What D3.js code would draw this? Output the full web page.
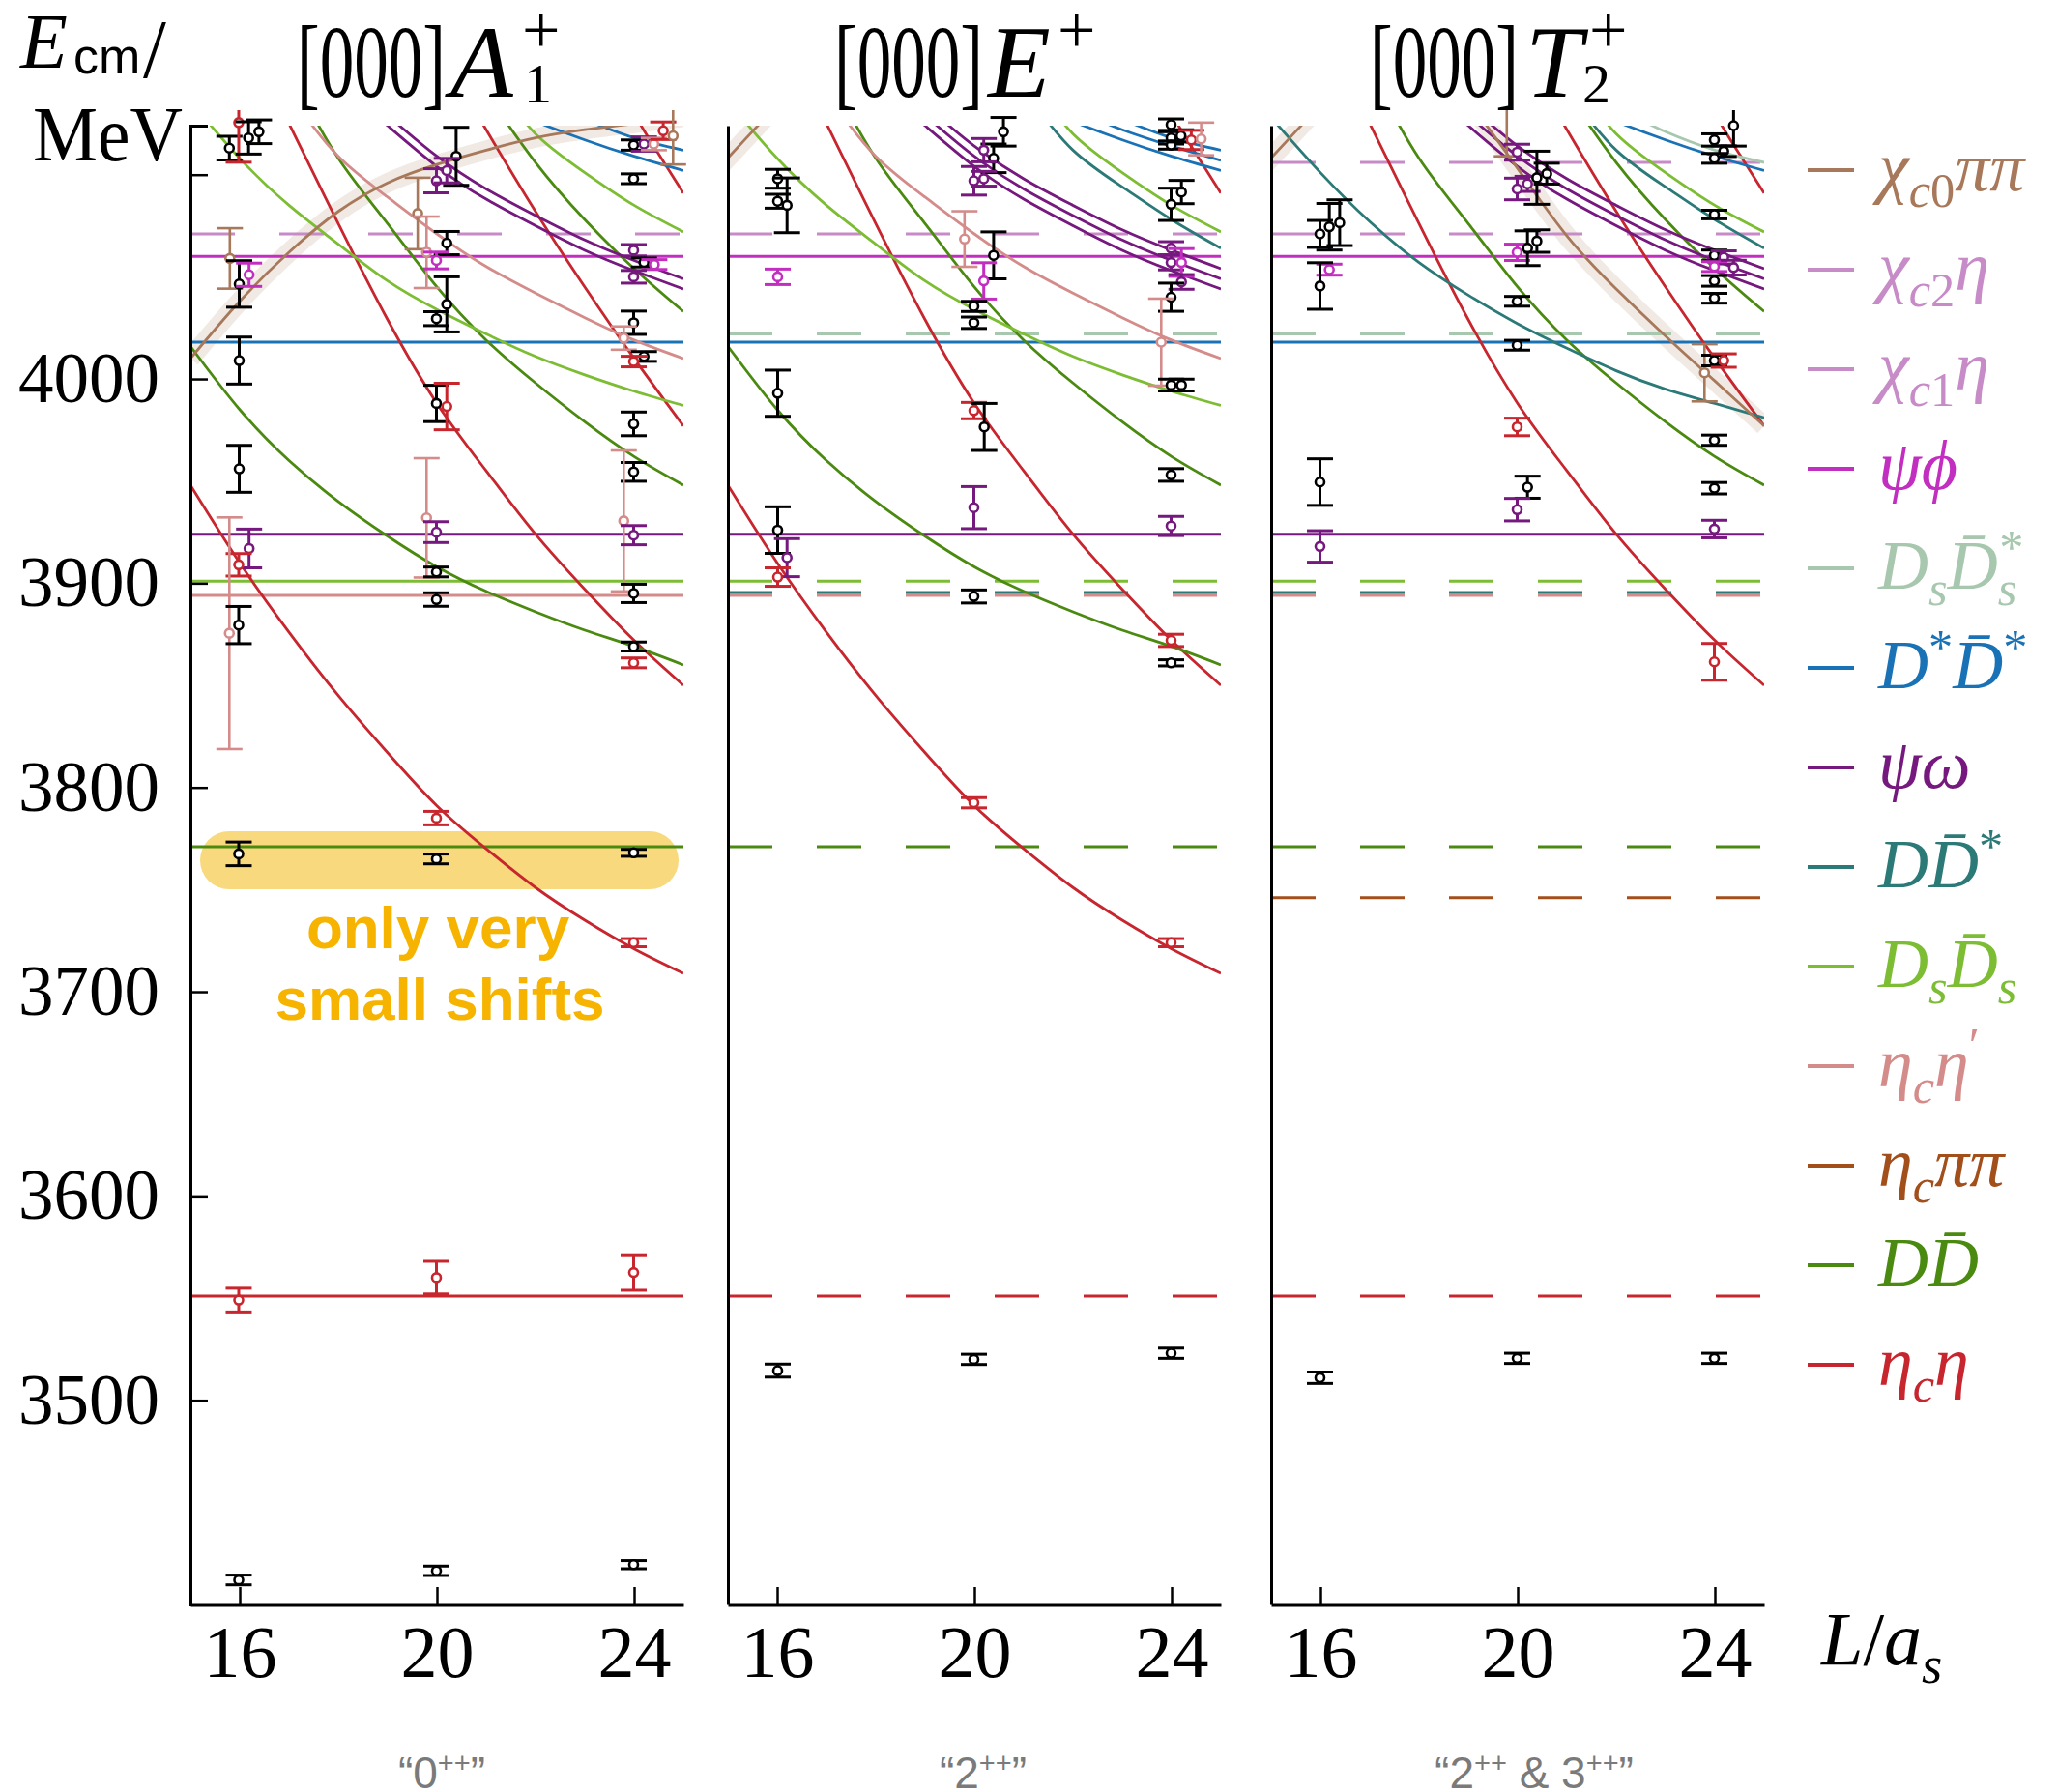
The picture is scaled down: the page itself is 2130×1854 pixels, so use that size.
<!DOCTYPE html>
<html>
<head>
<meta charset="utf-8">
<script src="https://cdn.jsdelivr.net/npm/d3@7"></script>
<style>
body { margin: 0; background: #fff; }
svg { display: block; }
</style>
</head>
<body>
<svg width="2130" height="1854"></svg>
<script>
// ---- threshold energies (MeV) ----
const thresholdKeys   = ['etacEta', 'etacPiPi', 'DD', 'etacEtap', 'DDst', 'DsDs', 'psiOmega', 'DstDst', 'DsDsst', 'psiPhi', 'chic1Eta', 'chic2Eta'];
const thresholdValues = [3551, 3746, 3771, 3894, 3895.5, 3901, 3924, 4018, 4022, 4060, 4071, 4106];

// which thresholds are drawn solid / dashed in each irrep
const solidA1  = ['etacEta', 'DD', 'etacEtap', 'DsDs', 'psiOmega', 'DstDst', 'psiPhi'];
const dashedA1 = ['chic1Eta'];
const solidE   = ['psiOmega', 'DstDst', 'psiPhi'];
const dashedE  = ['etacEta', 'DD', 'etacEtap', 'DDst', 'DsDs', 'DsDsst', 'chic1Eta'];
const solidT2  = ['psiOmega', 'DstDst', 'psiPhi'];
const dashedT2 = ['etacEta', 'etacPiPi', 'DD', 'etacEtap', 'DDst', 'DsDs', 'DsDsst', 'chic1Eta', 'chic2Eta'];

// ---- non-interacting curves, [L/a_s, E] ----
const etacEta1 = [[15,3948],[16,3910],[17,3876],[18,3845],[19,3817],[20,3791],[21,3770],[22,3751],[23,3735],[24,3721],[25,3709]];
const etacEta2 = [[16.5,4150],[17,4125],[18,4076],[19,4029],[20,3988],[21,3955],[22,3924],[23,3897],[24,3872],[25,3850]];
const etacEta3 = [[20.4,4147],[21,4122],[22,4082],[23,4045],[24,4010],[25,3977]];
const etacEta4 = [[23.6,4150],[24,4130],[24.5,4110],[25,4091]];
const dd1 = [[15,4016],[16,3985],[17,3960],[18,3940],[19,3923],[20,3908],[21,3896],[22,3886],[23,3877],[24,3869],[25,3860]];
const dd2 = [[17.2,4142],[18,4108],[19,4076],[20,4045],[21,4019],[22,3998],[23,3979],[24,3962],[25,3948]];
const dd3 = [[21,4140],[22,4106],[23,4078],[24,4054],[25,4033]];
const dsds1 = [[15,4136],[16,4108],[17,4085],[18,4066],[19,4048],[20,4034],[21,4022],[22,4011],[23,4002],[24,3994],[25,3987]];
const dsds2 = [[21.4,4140],[22,4120],[23,4101],[24,4085],[25,4072]];
const etacEtap1 = [[17.2,4133],[18,4109],[19,4089],[20,4071],[21,4055],[22,4042],[23,4030],[24,4019],[25,4010]];
const psiOmegaA = [[18.8,4128],[19,4124],[20,4104],[21,4088],[22,4075],[23,4063],[24,4053],[25,4044]];
const psiOmegaB = [[19,4129],[20,4109],[21,4093],[22,4080],[23,4068],[24,4058],[25,4049]];
const psiOmegaC = [[19.2,4130],[20,4114],[21,4098],[22,4085],[23,4073],[24,4063],[25,4054]];
const dstdstA = [[21.8,4128],[22,4126],[23,4117],[24,4109],[25,4102]];
const dstdstB = [[22.4,4128],[23,4122],[24,4114],[25,4107]];
const dstdstC = [[22.9,4128],[24,4118],[25,4112]];
const dsdsst1 = [[22.5,4127],[23,4121],[24,4112],[25,4106]];
const ddst1 = [[15,4128],[16,4101],[17,4077],[18,4057],[19,4041],[20,4027],[21,4015],[22,4004],[23,3995],[24,3988],[25,3981]];
const ddst2 = [[21.2,4135],[22,4112],[23,4094],[24,4078],[25,4064]];
const chic0Rise1 = [[15,4010],[16,4038],[17,4062],[18,4082],[19,4096],[20,4105],[21,4112],[22,4118],[23,4122],[24,4125],[25,4128]];
const chic0Rise2 = [[14.8,4103],[15.3,4116],[15.8,4129]];
const chic0Fall = [[19.1,4133],[20,4103],[21,4070],[22,4044],[23,4021],[24,3999],[25,3977]];

const curvesA1 = [['etacEta',etacEta1],['etacEta',etacEta2],['etacEta',etacEta3],['etacEta',etacEta4],['DD',dd1],['DD',dd2],['DD',dd3],
  ['DsDs',dsds1],['DsDs',dsds2],['etacEtap',etacEtap1],['psiOmega',psiOmegaA],['psiOmega',psiOmegaB],['DstDst',dstdstA],['DstDst',dstdstC]];
const curvesE = [['etacEta',etacEta1],['etacEta',etacEta2],['etacEta',etacEta4],['DD',dd1],['DD',dd2],['DsDs',dsds1],['DsDs',dsds2],
  ['etacEtap',etacEtap1],['psiOmega',psiOmegaA],['psiOmega',psiOmegaB],['psiOmega',psiOmegaC],['DDst',ddst2],
  ['DstDst',dstdstA],['DstDst',dstdstB],['DstDst',dstdstC]];
const curvesT2 = [['etacEta',etacEta2],['etacEta',etacEta3],['etacEta',etacEta4],['DD',dd2],['DD',dd3],['DDst',ddst1],['DDst',ddst2],['DsDs',dsds2],
  ['psiOmega',psiOmegaA],['psiOmega',psiOmegaB],['psiOmega',psiOmegaC],['DsDsst',dsdsst1],['DstDst',dstdstA]];
const bandsA1 = [chic0Rise1];
const bandsE = [chic0Rise2];
const bandsT2 = [chic0Rise2, chic0Fall];

// ---- finite-volume levels: [L/a_s, E, dE, kind] ----
const levelsA1 = [
  [15.79,4113,5.8,'k'],[15.98,4125.5,19.4,'r'],[16.18,4118,7.9,'k'],[16.39,4121,5.8,'k'],[15.80,4059,14.8,'br'],
  [15.99,4046.5,11.4,'k'],[16.19,4051,5.7,'m'],[15.99,4009,11.5,'k'],[15.99,3956,11.5,'k'],[16.19,3917,9.5,'p'],
  [15.98,3909,5.5,'r'],[15.79,3875.5,56.7,'pk'],[15.98,3879.5,9.1,'k'],[15.98,3767.5,5.8,'k'],[15.98,3549,5.8,'r'],[15.98,3412,2.4,'k'],
  [20.39,4109,14.2,'k'],[19.99,4097,5.9,'p'],[20.20,4102,6,'p'],[19.61,4081,17.5,'br'],[20.20,4066.5,5.7,'k'],
  [19.79,4062,17.5,'pk'],[19.99,4058,4.1,'m'],[20.20,4036.5,13.5,'k'],[19.99,4029.5,3.4,'k'],[19.99,3988,8.9,'k'],
  [20.20,3986.5,11.4,'r'],[19.79,3932,29.2,'pk'],[19.99,3925,5.1,'p'],[19.99,3905.5,2.4,'k'],[19.99,3892,3.3,'k'],
  [19.99,3785,3.3,'r'],[19.99,3765,2.4,'k'],[19.99,3560,8,'r'],[19.99,3416.5,2.3,'k'],
  [23.99,4114.5,2.5,'k'],[24.20,4115,3.5,'p'],[24.40,4115,3,'pk'],[24.59,4121.5,4.3,'r'],[24.79,4119,14,'br'],
  [23.99,4098,2.4,'k'],[23.99,4063,2.8,'p'],[24.20,4057,2.2,'k'],[24.41,4056,2.4,'m'],[23.99,4050,3.1,'p'],
  [23.99,4027.5,5.7,'k'],[23.79,4020,5.7,'pk'],[24.20,4011,2.4,'k'],[23.99,4008.5,2.6,'r'],[23.99,3978,5.8,'k'],
  [23.99,3954.5,4.6,'k'],[23.79,3930.5,34.5,'pk'],[23.99,3923.5,4.7,'p'],[23.99,3895,4.5,'k'],[23.99,3869,2.2,'k'],
  [23.99,3861,2.4,'r'],[23.99,3768,1.7,'k'],[23.99,3724,2,'r'],[23.99,3562.5,8.7,'r'],[23.99,3419.5,2,'k']
];
const levelsE = [
  [16.01,4098,4.6,'k'],[16.01,4087,3.4,'k'],[16.20,4085,13.4,'k'],[16.01,4050,3.8,'m'],[16.01,3993,11.3,'k'],
  [16.01,3926,11.4,'k'],[16.20,3912.5,9.3,'p'],[16.01,3903,4.5,'r'],[16.01,3514.5,3.2,'k'],
  [20.39,4108,7,'k'],[20.59,4121,7,'k'],[20.19,4112,5.7,'p'],[19.99,4097,7,'p'],[20.19,4098,3.6,'p'],
  [19.80,4068.5,13.6,'pk'],[20.39,4060.5,11.5,'k'],[20.19,4048,8.9,'m'],[19.99,4035.5,2.5,'k'],[19.99,4027.5,2.8,'k'],
  [19.99,3984.5,4,'r'],[20.20,3976.5,11.5,'k'],[19.99,3937,10.3,'p'],[19.99,3893.5,3.2,'k'],[19.99,3792.5,2.5,'r'],[19.99,3520,2.5,'k'],
  [23.99,4124.5,2.8,'k'],[23.99,4118,3,'k'],[23.99,4114.5,2,'k'],[24.19,4119,3,'k'],[24.40,4117,4.7,'r'],[24.60,4117.5,8,'pk'],
  [24.20,4091.5,5.7,'k'],[23.99,4085.5,7.9,'k'],[23.99,4064,3.2,'p'],[23.99,4057,3.6,'p'],[24.20,4057,6.8,'m'],
  [24.20,4047.5,3.6,'p'],[23.99,4040,6.9,'k'],[23.79,4018,21.3,'pk'],[23.99,3997,2.9,'k'],[24.20,3997,2.9,'k'],
  [23.99,3953,3.1,'k'],[23.99,3928,4.7,'p'],[23.99,3872,3,'r'],[23.99,3861,1.5,'k'],[23.99,3724,2,'r'],[23.99,3523,2.5,'k']
];
const levelsT2 = [
  [15.99,4071,6.6,'k'],[16.18,4074.5,11.4,'k'],[16.39,4076.5,11.2,'k'],[16.18,4053.5,2.7,'m'],[15.99,4045.5,11.4,'k'],
  [15.99,3949.5,11.4,'k'],[15.99,3918,7.7,'p'],[15.99,3511,2.8,'k'],
  [19.78,4150,41,'br'],[19.99,4111,3.9,'p'],[20.20,4095.5,3.7,'p'],[19.99,4093,5.3,'p'],[20.39,4098.5,13,'k'],
  [20.59,4100.5,5.1,'k'],[19.99,4062,4,'m'],[20.20,4064,8.5,'k'],[20.39,4067.5,5.5,'k'],[19.99,4038,2.4,'k'],
  [19.99,4016.5,2.4,'k'],[19.99,3976.5,4.3,'r'],[20.20,3947,5.4,'k'],[19.99,3936,5.5,'p'],[19.99,3520.5,2.5,'k'],
  [24.38,4124,10,'k'],[23.99,4117,3,'k'],[24.18,4111.5,2.6,'k'],[23.99,4108,2.4,'k'],[23.99,4080.5,2.1,'k'],
  [23.99,4060.5,2.6,'k'],[24.18,4059.5,3.2,'p'],[23.99,4055,2.4,'m'],[24.38,4054.5,3.6,'p'],[23.99,4048,2.6,'k'],
  [23.99,4039.5,2.4,'k'],[23.79,4003,14,'br'],[23.99,4009,2.6,'k'],[24.18,4009,3.3,'r'],[23.99,3970,2.5,'k'],
  [23.99,3946.5,2.8,'k'],[23.99,3926.5,4.3,'p'],[23.99,3861.5,9,'r'],[23.99,3520.5,2.5,'k']
];

const xTicks = [16, 20, 24];
const yTicks = [3500, 3600, 3700, 3800, 3900, 4000, 4100];

// ---- legend ----
const legendKeys = ['chic0PiPi','chic2Eta','chic1Eta','psiPhi','DsDsst','DstDst','psiOmega','DDst','DsDs','etacEtap','etacPiPi','DD','etacEta'];
const legendLabels = [
  [['χ','ni'],['c','bi'],['0','br'],['ππ','ni']],
  [['χ','ni'],['c','bi'],['2','br'],['η','ni']],
  [['χ','ni'],['c','bi'],['1','br'],['η','ni']],
  [['ψϕ','ni']],
  [['D','ni'],['s','bi'],['D\u0304','ni'],['s','bi'],['*','pr',-18]],
  [['D','ni'],['*','pr'],['D\u0304','ni'],['*','pr']],
  [['ψω','ni']],
  [['DD\u0304','ni'],['*','pr']],
  [['D','ni'],['s','bi'],['D\u0304','ni'],['s','bi']],
  [['η','ni'],['c','bi'],['η','ni'],['′','pr']],
  [['η','ni'],['c','bi'],['ππ','ni']],
  [['DD\u0304','ni']],
  [['η','ni'],['c','bi'],['η','ni']]
];
const panelTitles = [['A', '1'], ['E', null], ['T', '2']];

const color = {
  etacEta:'#c8262e', etacPiPi:'#a24f1c', DD:'#4b8a10', etacEtap:'#d48c8b', DDst:'#2c7a78', DsDs:'#7dbd34',
  psiOmega:'#76197e', DstDst:'#1a72b6', DsDsst:'#a7c8ae', psiPhi:'#c22ec0', chic1Eta:'#c78bc7', chic2Eta:'#c78bc7',
  chic0PiPi:'#a8785a'
};
const kindColor = { k:'#000', r:color.etacEta, p:color.psiOmega, m:color.psiPhi, pk:color.etacEtap, br:color.chic0PiPi };

const svg = d3.select('svg');
const serif = "'Liberation Serif', 'DejaVu Serif', serif";
const yTop = 130, yBot = 1660;
const panelLeft = [197, 753, 1315];
const panelW = 510;
const y = d3.scaleLinear().domain([3400, 4124]).range([yBot, yTop]);

function mathText(sel, segs, size) {
  let shift = 0;
  segs.forEach(s => {
    const pos = s[1][0], it = s[1][1] === 'i';
    const target = pos === 'b' ? 0.24 * size : pos === 'p' ? -0.36 * size : 0;
    const t = sel.append('tspan').text(s[0])
      .attr('dy', target - shift)
      .attr('font-size', pos === 'n' ? size : size * 0.7)
      .attr('font-style', it ? 'italic' : 'normal');
    if (s[2]) t.attr('dx', s[2]);
    shift = target;
  });
}

const panels = [
  { solid: solidA1, dashed: dashedA1, curves: curvesA1, bands: bandsA1, levels: levelsA1 },
  { solid: solidE, dashed: dashedE, curves: curvesE, bands: bandsE, levels: levelsE },
  { solid: solidT2, dashed: dashedT2, curves: curvesT2, bands: bandsT2, levels: levelsT2 }
];

const defs = svg.append('defs');

panels.forEach((p, i) => {
  const left = panelLeft[i];
  const x = d3.scaleLinear().domain([15, 25]).range([left, left + panelW]);
  defs.append('clipPath').attr('id', 'clip' + i).append('rect')
    .attr('x', left).attr('y', yTop).attr('width', panelW).attr('height', yBot - yTop);
  defs.append('clipPath').attr('id', 'clipPts' + i).append('rect')
    .attr('x', left - 20).attr('y', 114).attr('width', panelW + 40).attr('height', yBot - 114);

  const g = svg.append('g');
  const lines = g.append('g').attr('clip-path', `url(#clip${i})`);

  if (i === 0) {
    // highlight around the D Dbar threshold
    lines.append('rect')
      .attr('x', 207).attr('y', 860).attr('width', 495).attr('height', 60)
      .attr('rx', 30).attr('fill', '#f9d97d');
  }

  const line = d3.line().x(d => x(d[0])).y(d => y(d[1])).curve(d3.curveNatural);

  p.bands.forEach(b => {
    lines.append('path').attr('d', line(b)).attr('fill', 'none')
      .attr('stroke', color.chic0PiPi).attr('stroke-opacity', 0.16).attr('stroke-width', 20);
  });

  const thr = k => thresholdValues[thresholdKeys.indexOf(k)];
  lines.selectAll('.dash').data(p.dashed).enter().append('line')
    .attr('x1', left).attr('x2', left + panelW)
    .attr('y1', k => y(thr(k))).attr('y2', k => y(thr(k)))
    .attr('stroke', k => color[k]).attr('stroke-width', 3)
    .attr('stroke-dasharray', '46,46');
  lines.selectAll('.solid').data(p.solid).enter().append('line')
    .attr('x1', left).attr('x2', left + panelW)
    .attr('y1', k => y(thr(k))).attr('y2', k => y(thr(k)))
    .attr('stroke', k => color[k]).attr('stroke-width', 3);

  p.curves.forEach(c => {
    lines.append('path').attr('d', line(c[1])).attr('fill', 'none')
      .attr('stroke', color[c[0]]).attr('stroke-width', 2.8);
  });
  p.bands.forEach(b => {
    lines.append('path').attr('d', line(b)).attr('fill', 'none')
      .attr('stroke', color.chic0PiPi).attr('stroke-width', 2.8);
  });

  // error bars and points
  const pts = g.append('g').attr('clip-path', `url(#clipPts${i})`);
  const lv = pts.selectAll('.lv').data(p.levels).enter().append('g')
    .attr('stroke', d => kindColor[d[3]])
    .attr('stroke-width', d => (d[3] === 'pk' || d[3] === 'br') ? 2.6 : 3);
  lv.append('line')
    .attr('x1', d => x(d[0])).attr('x2', d => x(d[0]))
    .attr('y1', d => y(d[1] - d[2])).attr('y2', d => y(d[1] + d[2]));
  lv.append('line')
    .attr('x1', d => x(d[0]) - 13.5).attr('x2', d => x(d[0]) + 13.5)
    .attr('y1', d => y(d[1] - d[2])).attr('y2', d => y(d[1] - d[2]));
  lv.append('line')
    .attr('x1', d => x(d[0]) - 13.5).attr('x2', d => x(d[0]) + 13.5)
    .attr('y1', d => y(d[1] + d[2])).attr('y2', d => y(d[1] + d[2]));
  lv.append('circle')
    .attr('cx', d => x(d[0])).attr('cy', d => y(d[1])).attr('r', 4.5)
    .attr('fill', '#fff').attr('stroke-width', 2.6);

  // axes
  const yAxis = d3.axisLeft(y).tickSizeOuter(0);
  if (i === 0) {
    yAxis.tickValues(yTicks).tickSize(-18).tickPadding(32).tickFormat(d => d === 4100 ? '' : d);
  } else {
    yAxis.tickValues([]);
  }
  const ya = g.append('g').attr('transform', `translate(${left},0)`).call(yAxis);
  const xa = g.append('g').attr('transform', `translate(0,${yBot})`)
    .call(d3.axisBottom(x).tickValues(xTicks).tickSize(-18).tickSizeOuter(0).tickPadding(21));
  [ya, xa].forEach(a => {
    a.select('.domain').attr('stroke', '#000').attr('stroke-width', 3);
    a.selectAll('.tick line').attr('stroke', '#000').attr('stroke-width', 2.5);
    a.selectAll('text').attr('font-family', serif).attr('fill', '#000');
  });
  ya.selectAll('text').attr('font-size', 73);
  xa.selectAll('text').attr('font-size', 76);
  xa.select('.domain').attr('stroke-width', 4);
});

// "only very small shifts"
const note = svg.append('g').attr('font-family', "'Liberation Sans', Arial, sans-serif")
  .attr('font-weight', 'bold').attr('font-size', 62).attr('fill', '#f6b400').attr('text-anchor', 'middle');
note.append('text').attr('x', 453).attr('y', 981).text('only very');
note.append('text').attr('x', 455).attr('y', 1055).text('small shifts');

// panel titles, one text element each
const titleX = [[307, 466, 542, 540], [863, 1022, 0, 1094], [1417, 1578, 1637, 1644]];
panelTitles.forEach((tt, i) => {
  const pos = titleX[i];
  const t = svg.append('text').attr('font-family', serif).attr('fill', '#000').attr('y', 100);
  t.append('tspan').attr('x', pos[0]).attr('y', 100).attr('font-size', 106)
    .attr('textLength', 154).attr('lengthAdjust', 'spacingAndGlyphs').text('[000]');
  t.append('tspan').attr('x', pos[1]).attr('y', 100).attr('font-size', 106).attr('font-style', 'italic').text(tt[0]);
  if (tt[1]) t.append('tspan').attr('x', pos[2]).attr('y', 106).attr('font-size', 58).text(tt[1]);
  t.append('tspan').attr('x', pos[3]).attr('y', 55).attr('font-size', 70).text('+');
});

// y-axis label
const yl = svg.append('text').attr('fill', '#000').attr('font-family', serif).attr('y', 70);
yl.append('tspan').attr('x', 21).attr('font-style', 'italic').attr('font-size', 80).text('E');
yl.append('tspan').attr('x', 76).attr('y', 76).attr('font-family', "'Liberation Sans', Arial, sans-serif").attr('font-size', 52).text('cm');
yl.append('tspan').attr('x', 148).attr('y', 80).attr('font-size', 86).text('/');
svg.append('text').attr('x', 34).attr('y', 166).attr('font-family', serif).attr('font-size', 80).attr('fill', '#000')
  .attr('textLength', 155).attr('lengthAdjust', 'spacingAndGlyphs').text('MeV');

// x-axis label
const xl = svg.append('text').attr('x', 1884).attr('y', 1722).attr('font-family', serif).attr('fill', '#000');
mathText(xl, [['L','ni'],['/','nr'],['a','ni'],['s','bi']], 78);

// bottom quantum-number labels
const bl = svg.append('g').attr('font-family', "'Liberation Sans Narrow', 'Liberation Sans', sans-serif")
  .attr('fill', '#7a7a7a').attr('font-size', 46).attr('text-anchor', 'middle');
[['“0', '”', 457], ['“2', '”', 1017]].forEach(d => {
  const t = bl.append('text').attr('x', d[2]).attr('y', 1850);
  t.append('tspan').text(d[0]);
  t.append('tspan').text('++').attr('font-size', 29).attr('dy', -16);
  t.append('tspan').text(d[1]).attr('dy', 16);
});
{
  const t = bl.append('text').attr('x', 1587).attr('y', 1850);
  t.append('tspan').text('“2');
  t.append('tspan').text('++').attr('font-size', 29).attr('dy', -16);
  t.append('tspan').text(' & 3').attr('dy', 16);
  t.append('tspan').text('++').attr('font-size', 29).attr('dy', -16);
  t.append('tspan').text('”').attr('dy', 16);
}

// legend
const lg = svg.append('g');
legendKeys.forEach((k, i) => {
  const yy = 176 + i * 103;
  lg.append('line').attr('x1', 1870).attr('x2', 1918).attr('y1', yy).attr('y2', yy)
    .attr('stroke', color[k]).attr('stroke-width', 4);
  const t = lg.append('text').attr('x', 1943).attr('y', yy + 21)
    .attr('font-family', serif).attr('fill', color[k]);
  mathText(t, legendLabels[i], 72);
});
</script>
</body>
</html>
